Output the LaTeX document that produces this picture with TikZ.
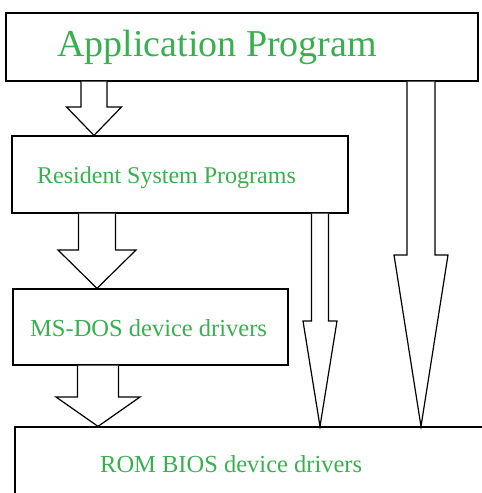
\documentclass[tikz,border=0pt]{standalone}
\usepackage{fontspec}
\setmainfont{Liberation Serif}
\definecolor{labelgreen}{RGB}{56,176,80}
\tikzset{
  layerbox/.style={draw, line width=1.2pt, inner sep=0pt},
  layertext/.style={anchor=base west, inner sep=0pt, text=labelgreen},
  blockarrow/.style={draw, line width=1.2pt, line join=miter, fill=white}
}
% #1 axis x, #2 shaft half width, #3 head half width, #4 head start y, #5 from, #6 to
\newcommand{\blockarrow}[6]{%
  \draw[blockarrow] ({#1-#2},0 |- #5.south) -- ({#1-#2},#4) -- ({#1-#3},#4)
    -- (#1,0 |- #6.north) -- ({#1+#3},#4) -- ({#1+#2},#4) -- ({#1+#2},0 |- #5.south);}
\begin{document}
\begin{tikzpicture}[x=1pt,y=1pt,yscale=-1,xscale=1]
\clip (0,0) rectangle (482,493);

%Flowchart: Process
\node [layerbox, minimum width=472pt, minimum height=68pt] (ap) at (242,47) {};
%Flowchart: Process
\node [layerbox, minimum width=336pt, minimum height=77pt] (rsp) at (180,174.5) {};
%Flowchart: Process
\node [layerbox, minimum width=275pt, minimum height=76pt] (msdos) at (150.5,327) {};
%Flowchart: Process
\node [layerbox, minimum width=485pt, minimum height=83pt] (rom) at (257.5,468.5) {};

%Block Arrows
\blockarrow{94}{13}{27.5}{107}{ap}{rsp}
\blockarrow{97}{18.5}{39}{250}{rsp}{msdos}
\blockarrow{98}{20.5}{42}{397}{msdos}{rom}
\blockarrow{320}{8.5}{17}{321}{rsp}{rom}
\blockarrow{421}{14}{27}{255}{ap}{rom}

% Text Node
\node [layertext, font=\fontsize{38}{40}\selectfont] (ap-text) at (57,56) {Application Program};
% Text Node
\node [layertext, font=\fontsize{24}{26}\selectfont] (rsp-text) at (37,183) {Resident System Programs};
% Text Node
\node [layertext, font=\fontsize{24.5}{26}\selectfont] (msdos-text) at (30,336) {MS-DOS device drivers};
% Text Node
\node [layertext, font=\fontsize{24.5}{26}\selectfont] (rom-text) at (100,472) {ROM BIOS device drivers};

\end{tikzpicture}
\end{document}
